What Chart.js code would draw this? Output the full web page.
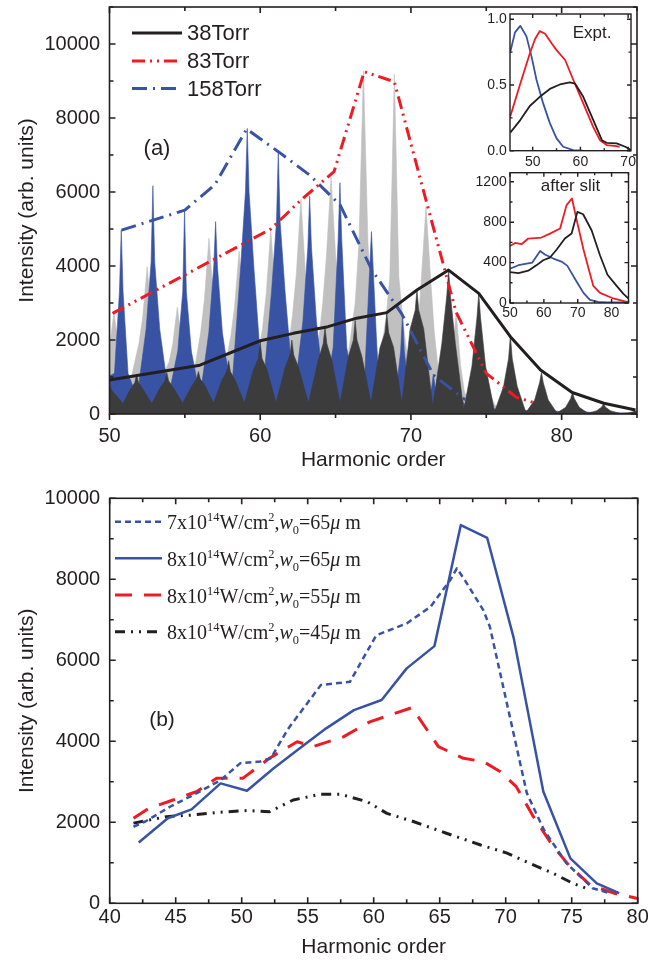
<!DOCTYPE html>
<html><head><meta charset="utf-8">
<script src="https://cdn.jsdelivr.net/npm/chart.js@4.4.1/dist/chart.umd.min.js"></script>
<style>
html,body{margin:0;padding:0;background:#fff;}
#wrap{position:relative;width:648px;height:964px;overflow:hidden;background:#fff;}
canvas{position:absolute;}
</style></head><body>
<div id="wrap">
<canvas id="ca" width="648" height="480" style="left:0;top:0"></canvas>
<canvas id="cb" width="648" height="484" style="left:0;top:480px"></canvas>
<canvas id="ci1" width="178" height="175" style="left:470px;top:0"></canvas>
<canvas id="ci2" width="178" height="165" style="left:470px;top:165px"></canvas>
</div>
<script>
// ---------- tick labels ----------
const ticksAX = [50, 60, 70, 80];
const ticksAY = [0, 2000, 4000, 6000, 8000, 10000];
const ticksBX = [40, 45, 50, 55, 60, 65, 70, 75, 80];
const ticksBY = [0, 2000, 4000, 6000, 8000, 10000];
const ticksI1X = [50, 60, 70];
const ticksI1Y = [0, 0.5, 1.0];
const ticksI2X = [50, 60, 70, 80];
const ticksI2Y = [0, 400, 800, 1200];

// ---------- Panel (a): envelopes ----------
const env38X = [50.0, 56.0, 60.0, 62.2, 64.5, 66.4, 68.4, 70.4, 72.5, 74.5, 76.6, 78.6, 80.7, 82.8, 84.9];
const env38Y = [920, 1320, 1980, 2180, 2360, 2590, 2740, 3350, 3890, 3260, 2090, 1190, 580, 290, 110];
const env83X = [50.2, 58.6, 60.7, 62.7, 64.9, 66.9, 68.9, 71.0, 73.0, 75.0, 77.0, 78.4];
const env83Y = [2720, 4540, 5000, 5780, 6550, 9250, 8980, 5780, 2750, 1100, 450, 280];
const env158X = [50.8, 55.0, 57.0, 59.1, 61.2, 63.3, 65.3, 67.4, 69.4, 71.5, 73.6];
const env158Y = [4970, 5510, 6200, 7700, 7090, 6450, 5650, 3900, 2700, 1050, 380];

// ---------- Panel (a): spectra (harmonic peaks) ----------
// 83 Torr (light gray)
const g83Start = 1500, g83End = 16;
const g83X      = [50.3, 52.5, 54.5, 56.6, 58.6, 60.7, 62.7, 64.7, 66.85, 68.9, 71.0, 73.0, 75.0, 77.0, 79.0, 81.0, 83.0, 85.0];
const g83Top    = [2750, 3980, 2890, 4750, 4400, 4980, 5800, 6400, 9280, 9190, 5610, 2750, 1120, 450, 220, 100, 60, 40];
const g83Neck   = [1800, 2600, 1900, 3100, 2900, 3250, 3800, 4300, 4600, 3700, 3700, 1300, 500, 200, 120, 65, 40, 25];
const g83Foot   = [1300, 1900, 1400, 2200, 2100, 2300, 2700, 3000, 3000, 2600, 2200, 600, 250, 100, 70, 45, 28, 18];
const g83Valley = [900, 1000, 1000, 1100, 1100, 1200, 1300, 1400, 1300, 900, 500, 200, 100, 55, 35, 22, 16];
// 158 Torr (blue)
const b158Start = 900, b158End = 30;
const b158X      = [50.78, 52.88, 54.98, 57.04, 59.14, 61.2, 63.28, 65.29, 67.38, 69.44, 71.49, 73.4, 75.4, 77.4, 79.5, 81.5, 83.5];
const b158Top    = [4980, 6170, 5520, 5200, 7720, 7110, 5880, 6250, 4930, 2710, 1080, 380, 180, 130, 100, 70, 50];
const b158Neck   = [3300, 4100, 3300, 4000, 6000, 5200, 4500, 4700, 3900, 1700, 700, 280, 140, 100, 80, 55, 40];
const b158Foot   = [1100, 2300, 1700, 2200, 3900, 3300, 2500, 1800, 1000, 500, 300, 150, 100, 80, 60, 45, 30];
const b158Valley = [450, 500, 480, 550, 600, 450, 420, 400, 300, 200, 120, 90, 70, 60, 50, 40];
// 38 Torr (dark gray)
const d38Start = 650, d38End = 20;
const d38X      = [50.0, 51.8, 53.8, 55.9, 57.9, 60.0, 62.1, 64.3, 66.3, 68.4, 70.4, 72.5, 74.5, 76.6, 78.66, 80.72, 82.78, 84.86];
const d38Top    = [800, 1080, 1120, 1150, 1440, 1950, 2000, 2350, 2530, 2710, 3350, 3890, 3260, 2120, 1120, 580, 270, 90];
const d38Neck   = [650, 850, 900, 950, 1150, 1500, 1600, 1900, 2000, 2200, 2800, 3200, 2600, 1500, 850, 420, 190, 60];
const d38Foot   = [500, 650, 700, 750, 900, 1200, 1250, 1450, 1550, 1800, 2300, 1900, 1300, 750, 380, 180, 90, 30];
const d38Valley = [280, 280, 290, 300, 300, 300, 300, 300, 300, 280, 200, 100, 60, 40, 30, 20, 15];

// ---------- Inset "Expt." ----------
const i1BlueX = [45.3, 46.3, 47.4, 48.7, 49.8, 50.8, 52.2, 53.6, 55.0, 56.4, 58.5, 60.5];
const i1BlueY = [0.75, 0.90, 0.95, 0.87, 0.71, 0.54, 0.36, 0.21, 0.094, 0.03, 0.005, 0.0];
const i1RedX = [45.3, 47.4, 49.4, 50.5, 51.5, 52.6, 54.0, 55.0, 56.8, 58.5, 60.6, 62.7, 64.1, 65.5, 67.6, 68.2];
const i1RedY = [0.26, 0.51, 0.74, 0.85, 0.91, 0.89, 0.815, 0.765, 0.69, 0.54, 0.36, 0.18, 0.08, 0.043, 0.035, 0.03];
const i1BlackX = [45.3, 47.4, 49.4, 51.5, 53.6, 55.7, 57.8, 58.9, 60.6, 62.7, 64.5, 65.5, 67.6, 69.4, 70.6];
const i1BlackY = [0.137, 0.233, 0.34, 0.41, 0.47, 0.504, 0.52, 0.51, 0.41, 0.233, 0.08, 0.06, 0.056, 0.03, 0.005];

// ---------- Inset "after slit" ----------
const i2RedX = [50, 51.5, 53.4, 55.4, 59.3, 61.8, 64.8, 66.7, 68.3, 69.7, 71.7, 73.3, 74.6, 76.6, 80.5, 84.5, 85];
const i2RedY = [565, 595, 582, 638, 648, 687, 737, 969, 1035, 820, 530, 330, 170, 100, 45, 10, 5];
const i2BlackX = [50, 52.5, 55.4, 57.9, 59.8, 61.8, 63.8, 66.2, 68.2, 69.9, 71.6, 74.1, 76.6, 78.8, 81.0, 83.5, 85];
const i2BlackY = [305, 295, 320, 375, 423, 450, 530, 638, 688, 902, 879, 720, 470, 280, 190, 90, 45];
const i2BlueX = [50, 52.5, 56.6, 58.9, 60.3, 62.8, 65.2, 66.9, 69.7, 71.7, 73.6, 76, 78.6, 85];
const i2BlueY = [340, 374, 400, 515, 480, 440, 410, 370, 210, 100, 30, 10, 5, 5];

// ---------- Panel (b) ----------
const b7_65X = [41.8, 42.7, 44.6, 46.6, 48.4, 49.9, 51.4, 52.2, 53.5, 56.0, 58.2, 60.2, 62.5, 64.3, 65.8, 66.3, 66.9, 68.3, 68.8, 71.6, 72.9, 74.6, 76.6, 77.9];
const b7_65Y = [1890, 2020, 2390, 2720, 3040, 3460, 3500, 3580, 4300, 5390, 5470, 6620, 6910, 7320, 7980, 8270, 7980, 7240, 6830, 2720, 1810, 990, 370, 250];
const b8_65X = [42.2, 44.4, 46.2, 48.4, 50.4, 52.4, 54.4, 56.4, 58.5, 60.6, 62.5, 64.6, 66.6, 68.6, 70.6, 72.85, 74.9, 76.9, 78.6];
const b8_65Y = [1500, 2100, 2320, 2960, 2780, 3330, 3830, 4320, 4770, 5020, 5800, 6350, 9340, 9020, 6560, 2760, 1110, 490, 250];
const b8_55X = [41.8, 43.0, 44.8, 46.6, 48.1, 50.1, 52.1, 54.2, 55.4, 57.7, 59.7, 62.9, 64.9, 66.8, 68.3, 69.6, 70.8, 72.1, 73.6, 74.9, 76.4, 78.2, 80.0];
const b8_55Y = [2100, 2350, 2550, 2760, 3090, 3090, 3580, 3990, 3870, 4110, 4480, 4830, 3870, 3580, 3500, 3250, 2880, 2140, 1400, 900, 450, 250, 120];
const b8_45X = [41.8, 44.3, 46.3, 48.4, 50.4, 52.1, 53.9, 55.9, 57.5, 59.5, 61.0, 63.0, 65.5, 68.1, 70.1, 71.8, 73.6, 75.1, 76.1];
const b8_45Y = [1980, 2140, 2180, 2250, 2290, 2260, 2550, 2690, 2690, 2510, 2220, 2020, 1730, 1440, 1240, 990, 740, 490, 370];

// ---------- styling ----------
const BLACK = '#231f20', RED = '#ed1c24', BLUE = '#3953a4', GRAY = '#c0c0c0', DARK = '#3c3c3c';
const SANS = '"Liberation Sans", Arial, sans-serif';
const SERIF = '"Liberation Serif", "Times New Roman", serif';

function pts(X, Y) { return X.map((x, i) => ({x, y: Y[i]})); }
// builds the peak outline: foot / neck / top / neck / foot, valleys between peaks
function spectrum(startY, X, top, neck, foot, valley, endY, neckW, footW) {
  const p = [{x: 49.4, y: startY}];
  for (let i = 0; i < X.length; i++) {
    p.push({x: X[i] - footW, y: foot[i]}, {x: X[i] - neckW, y: neck[i]}, {x: X[i], y: top[i]},
           {x: X[i] + neckW, y: neck[i]}, {x: X[i] + footW, y: foot[i]});
    if (i < valley.length) p.push({x: (X[i] + X[i + 1]) / 2, y: valley[i]});
  }
  p.push({x: 85.6, y: endY});
  return p;
}

const frameTicks = {
  id: 'frameTicks',
  afterDatasetsDraw(chart, args, o) {
    const {ctx, chartArea: a, scales: {x, y}} = chart;
    ctx.save();
    ctx.strokeStyle = BLACK;
    ctx.lineWidth = o.lw;
    ctx.lineCap = 'butt';
    ctx.setLineDash([]);
    const vx = (v, len) => {
      const p = x.getPixelForValue(v);
      ctx.beginPath();
      ctx.moveTo(p, a.bottom);
      ctx.lineTo(p, o.bottomOut ? a.bottom + len : a.bottom - len);
      ctx.moveTo(p, a.top); ctx.lineTo(p, a.top + len);
      ctx.stroke();
    };
    const vy = (v, len) => {
      const p = y.getPixelForValue(v);
      ctx.beginPath();
      ctx.moveTo(a.left, p); ctx.lineTo(a.left + len, p);
      ctx.moveTo(a.right, p); ctx.lineTo(a.right - len, p);
      ctx.stroke();
    };
    const eps = 1e-6;
    for (let v = Math.ceil(x.min / o.xMinor - eps) * o.xMinor; v <= x.max + eps; v += o.xMinor) {
      const isMajor = Math.abs(v / o.xMajor - Math.round(v / o.xMajor)) < 1e-6;
      vx(v, isMajor ? o.major : o.minor);
    }
    for (let v = Math.ceil(y.min / o.yMinor - eps) * o.yMinor; v <= y.max + eps; v += o.yMinor) {
      const isMajor = Math.abs(v / o.yMajor - Math.round(v / o.yMajor)) < 1e-6;
      vy(v, isMajor ? o.major : o.minor);
    }
    ctx.strokeRect(a.left, a.top, a.right - a.left, a.bottom - a.top);
    ctx.restore();
  }
};

const textDraw = {
  id: 'textDraw',
  afterDraw(chart, args, o) {
    const ctx = chart.ctx;
    ctx.save();
    ctx.fillStyle = BLACK;
    (o.items || []).forEach(t => {
      ctx.font = t.font;
      ctx.textAlign = t.align || 'center';
      ctx.textBaseline = 'middle';
      ctx.fillText(t.text, t.x, t.y);
    });
    ctx.restore();
  }
};

const legendA = {
  id: 'legendA',
  afterDraw(chart, args, o) {
    const ctx = chart.ctx;
    ctx.save();
    o.rows.forEach((r, i) => {
      const ds = chart.data.datasets[i];
      ctx.strokeStyle = ds.borderColor;
      ctx.lineWidth = ds.borderWidth;
      ctx.setLineDash(ds.borderDash || []);
      ctx.beginPath();
      ctx.moveTo(o.x0, r); ctx.lineTo(o.x1, r);
      ctx.stroke();
      ctx.setLineDash([]);
      ctx.fillStyle = BLACK;
      ctx.font = o.font;
      ctx.textAlign = 'left';
      ctx.textBaseline = 'middle';
      ctx.fillText(ds.label, o.tx, r + 1);
    });
    ctx.restore();
  }
};

const legendB = {
  id: 'legendB',
  afterDraw(chart, args, o) {
    const ctx = chart.ctx;
    ctx.save();
    o.rows.forEach((r, i) => {
      const ds = chart.data.datasets[i];
      ctx.strokeStyle = ds.borderColor;
      ctx.lineWidth = ds.borderWidth;
      ctx.setLineDash(ds.borderDash || []);
      ctx.beginPath();
      ctx.moveTo(o.x0, r); ctx.lineTo(o.x1, r);
      ctx.stroke();
      ctx.setLineDash([]);
      ctx.fillStyle = BLACK;
      ctx.textAlign = 'left';
      ctx.textBaseline = 'alphabetic';
      let x = o.tx;
      const base = r + 7.5;
      const s = o.size;
      ds.rich.forEach(([t, k]) => {
        let f = s, dy = 0, st = '';
        if (k === 'sup') { f = s * 0.62; dy = -s * 0.4; }
        if (k === 'sub') { f = s * 0.62; dy = s * 0.25; }
        if (k === 'i') st = 'italic ';
        ctx.font = st + f + 'px ' + SERIF;
        ctx.fillText(t, x, base + dy);
        x += ctx.measureText(t).width;
      });
    });
    ctx.restore();
  }
};

function richLabel(I, w) {
  return [[I + 'x10', 'n'], ['14', 'sup'], ['W/cm', 'n'], ['2', 'sup'], [',', 'n'], ['w', 'i'], ['0', 'sub'], ['=' + w, 'n'], ['\u03bc', 'i'], [' m', 'n']];
}

const fixTicks = arr => (s => { s.ticks = arr.map(v => ({value: v})); });

function axisX(min, max, tickArr, size, pad, h, title, titlePadB) {
  return {
    type: 'linear', min, max,
    afterBuildTicks: fixTicks(tickArr),
    ticks: {autoSkip: false, maxRotation: 0, color: BLACK, font: {family: SANS, size}, padding: pad,
            callback: v => String(v)},
    grid: {display: false, drawTicks: false}, border: {display: false},
    title: title ? {display: true, text: title, color: BLACK, font: {family: SANS, size: 21}, padding: {top: 0, bottom: titlePadB}} : {display: false},
    afterFit(s) { s.height = h; s.paddingLeft = 0; s.paddingRight = 0; }
  };
}
function axisY(min, max, tickArr, size, pad, w, title, titlePadT, cb) {
  return {
    type: 'linear', min, max,
    afterBuildTicks: fixTicks(tickArr),
    ticks: {autoSkip: false, color: BLACK, font: {family: SANS, size}, padding: pad, callback: cb || (v => String(v))},
    grid: {display: false, drawTicks: false}, border: {display: false},
    title: title ? {display: true, text: title, color: BLACK, font: {family: SANS, size: 21}, padding: {top: titlePadT, bottom: 0}} : {display: false},
    afterFit(s) { s.width = w; s.paddingTop = 0; s.paddingBottom = 0; }
  };
}
const lineDs = (label, data, color, width, dash) => ({label, data, borderColor: color, borderWidth: width, borderDash: dash || [], pointRadius: 0, fill: false, tension: 0, borderJoinStyle: 'round'});
const fillDs = (label, data, color) => ({label, data, borderColor: color, backgroundColor: color, borderWidth: 0.6, pointRadius: 0, fill: 'origin', tension: 0});
const common = {responsive: false, animation: false, events: []};

// ---------- Panel (a) ----------
new Chart(document.getElementById('ca'), {
  type: 'line',
  data: {datasets: [
    lineDs('38Torr', pts(env38X, env38Y), BLACK, 3),
    lineDs('83Torr', pts(env83X, env83Y), RED, 3, [13, 5, 2, 5, 2, 5]),
    lineDs('158Torr', pts(env158X, env158Y), BLUE, 3, [15, 6, 2, 6]),
    fillDs('38Torr spectrum', spectrum(d38Start, d38X, d38Top, d38Neck, d38Foot, d38Valley, d38End, 0.12, 0.45), DARK),
    fillDs('158Torr spectrum', spectrum(b158Start, b158X, b158Top, b158Neck, b158Foot, b158Valley, b158End, 0.12, 0.45), BLUE),
    fillDs('83Torr spectrum', spectrum(g83Start, g83X, g83Top, g83Neck, g83Foot, g83Valley, g83End, 0.3, 0.55), GRAY)
  ]},
  options: Object.assign({}, common, {
    layout: {padding: {left: 0, top: 7, right: 11, bottom: 0}},
    plugins: {
      legend: {display: false}, tooltip: {enabled: false},
      frameTicks: {lw: 1.6, major: 6, minor: 4, xMajor: 10, xMinor: 5, yMajor: 2000, yMinor: 1000, bottomOut: true},
      legendA: {rows: [33, 61, 88.5], x0: 132, x1: 182, tx: 187, font: '22px ' + SANS},
      textDraw: {items: [{text: '(a)', x: 157, y: 149, font: '22px ' + SANS}]}
    },
    scales: {
      x: axisX(50, 85, ticksAX, 20, 10.5, 66, 'Harmonic order', 7.4),
      y: axisY(0, 11000, ticksAY, 20, 9.5, 109.5, 'Intensity (arb. units)', 14.4)
    }
  }),
  plugins: [frameTicks, legendA, textDraw]
});

// ---------- Inset 1 ----------
new Chart(document.getElementById('ci1'), {
  type: 'line',
  data: {datasets: [
    lineDs('38Torr', pts(i1BlackX, i1BlackY), BLACK, 1.8),
    lineDs('83Torr', pts(i1RedX, i1RedY), RED, 1.8),
    lineDs('158Torr', pts(i1BlueX, i1BlueY), BLUE, 1.8)
  ]},
  options: Object.assign({}, common, {
    layout: {padding: {left: 0, top: 14, right: 17, bottom: 0}},
    plugins: {
      legend: {display: false}, tooltip: {enabled: false},
      frameTicks: {lw: 1.4, major: 4, minor: 2.5, xMajor: 10, xMinor: 5, yMajor: 0.5, yMinor: 0.25, bottomOut: false},
      textDraw: {items: [{text: 'Expt.', x: 122, y: 33, font: '17px ' + SANS}]}
    },
    scales: {
      x: axisX(45.25, 70.6, ticksI1X, 14, 2.9, 24.3, null),
      y: axisY(0, 1.04, ticksI1Y, 14, 3.3, 40, null, 0, v => v.toFixed(1))
    }
  }),
  plugins: [frameTicks, textDraw]
});

// ---------- Inset 2 ----------
new Chart(document.getElementById('ci2'), {
  type: 'line',
  data: {datasets: [
    lineDs('38Torr', pts(i2BlackX, i2BlackY), BLACK, 1.8),
    lineDs('83Torr', pts(i2RedX, i2RedY), RED, 1.8),
    lineDs('158Torr', pts(i2BlueX, i2BlueY), BLUE, 1.8)
  ]},
  options: Object.assign({}, common, {
    layout: {padding: {left: 0, top: 7.7, right: 19.5, bottom: 0}},
    plugins: {
      legend: {display: false}, tooltip: {enabled: false},
      frameTicks: {lw: 1.4, major: 4, minor: 2.5, xMajor: 10, xMinor: 5, yMajor: 400, yMinor: 200, bottomOut: false},
      textDraw: {items: [{text: 'after slit', x: 100.5, y: 21, font: '17px ' + SANS}]}
    },
    scales: {
      x: axisX(50, 85, ticksI2X, 14, 1.6, 27, null),
      y: axisY(0, 1290, ticksI2Y, 14, 3.3, 40, null)
    }
  }),
  plugins: [frameTicks, textDraw]
});

// ---------- Panel (b) ----------
const dsB = [
  Object.assign(lineDs('7x10^14 W/cm^2, w0=65 um', pts(b7_65X, b7_65Y), BLUE, 2.5, [6, 4]), {rich: richLabel('7', '65')}),
  Object.assign(lineDs('8x10^14 W/cm^2, w0=65 um', pts(b8_65X, b8_65Y), BLUE, 2.5), {rich: richLabel('8', '65')}),
  Object.assign(lineDs('8x10^14 W/cm^2, w0=55 um', pts(b8_55X, b8_55Y), RED, 3, [17, 12]), {rich: richLabel('8', '55')}),
  Object.assign(lineDs('8x10^14 W/cm^2, w0=45 um', pts(b8_45X, b8_45Y), BLACK, 3, [10, 6, 2, 6, 2, 6]), {rich: richLabel('8', '45')})
];
new Chart(document.getElementById('cb'), {
  type: 'line',
  data: {datasets: dsB},
  options: Object.assign({}, common, {
    layout: {padding: {left: 0, top: 18.3, right: 10.3, bottom: 0}},
    plugins: {
      legend: {display: false}, tooltip: {enabled: false},
      frameTicks: {lw: 1.6, major: 6, minor: 4, xMajor: 5, xMinor: 2.5, yMajor: 2000, yMinor: 1000, bottomOut: false},
      legendB: {rows: [41.7, 78.3, 115, 151.7], x0: 115, x1: 162, tx: 167, size: 20},
      textDraw: {items: [{text: '(b)', x: 162, y: 240, font: '21px ' + SANS}]}
    },
    scales: {
      x: axisX(40, 80, ticksBX, 20, 2.2, 60.7, 'Harmonic order', 4.4),
      y: axisY(0, 10000, ticksBY, 20, 9.5, 109.7, 'Intensity (arb. units)', 14.4)
    }
  }),
  plugins: [frameTicks, legendB, textDraw]
});
</script>
</body></html>
